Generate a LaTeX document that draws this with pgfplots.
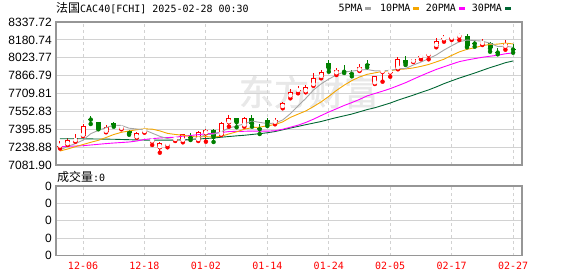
\documentclass[border=0pt]{standalone}
\usepackage{fontspec}
\setmainfont{Liberation Sans}
\newfontfamily\cjk{Noto Sans CJK SC}
\newfontfamily\cjkwm[FakeBold=1.5]{Noto Sans CJK SC}
\newfontfamily\mono{DejaVu Sans Mono}
\usepackage{pgfplots}
\pgfplotsset{compat=1.18}
\usepackage{pgfplotstable}

\definecolor{candleRed}{RGB}{255,0,0}
\definecolor{candleGreen}{RGB}{0,128,0}
\definecolor{maGray}{RGB}{165,165,165}
\definecolor{maOrange}{RGB}{245,166,0}
\definecolor{maMagenta}{RGB}{255,0,255}
\definecolor{maGreen}{RGB}{0,102,51}
\definecolor{frameGray}{RGB}{150,150,150}
\definecolor{gridGray}{RGB}{210,210,210}

% up (red, hollow) candles: index open high low close
\pgfplotstableread{
x o h l c
0 7244.3 7292.6 7226.8 7253.1
1 7263.7 7316.4 7257.5 7301.4
2 7292.6 7351.5 7286.5 7321.6
3 7339.2 7439.3 7336.6 7427.0
6 7374.3 7433.2 7369.0 7418.2
8 7400.7 7433.2 7395.4 7413.0
10 7325.1 7374.3 7321.6 7365.5
11 7371.7 7395.4 7365.5 7377.8
12 7288.3 7323.4 7257.5 7292.6
13 7237.3 7286.5 7189.9 7272.4
14 7257.5 7286.5 7237.3 7261.9
15 7301.4 7314.6 7292.6 7305.8
16 7295.3 7354.1 7281.2 7351.5
18 7301.4 7383.1 7292.6 7374.3
19 7360.3 7395.4 7286.5 7391.9
21 7349.7 7459.5 7345.3 7450.7
22 7456.9 7521.0 7418.2 7492.0
24 7428.8 7506.0 7418.2 7492.0
28 7452.5 7492.0 7439.3 7477.1
29 7591.2 7637.8 7579.8 7629.0
30 7685.2 7746.7 7667.6 7721.2
31 7731.7 7773.0 7711.5 7736.1
32 7729.1 7784.4 7720.3 7769.5
33 7784.4 7887.2 7777.4 7843.3
34 7854.7 7916.2 7843.3 7901.2
36 7887.2 7936.4 7872.3 7918.8
39 7913.5 7966.2 7907.4 7945.1
41 7799.4 7866.1 7793.2 7860.8
42 7898.6 7922.3 7813.4 7904.7
43 7894.2 7916.2 7857.3 7898.6
44 7931.1 8033.0 7922.3 8010.1
46 7989.1 8015.4 7986.4 8010.1
47 8030.3 8054.0 8010.1 8034.7
48 8047.9 8076.9 8010.1 8052.3
49 8128.7 8194.6 8115.5 8170.8
50 8185.8 8223.5 8164.7 8190.2
51 8192.8 8208.6 8179.6 8195.4
52 8210.4 8241.1 8179.6 8214.8
55 8144.5 8185.8 8135.7 8164.7
58 8120.8 8177.0 8094.4 8142.7
}\upcandles

% down (green, filled) candles
\pgfplotstableread{
x o h l c
4 7485.8 7512.2 7441.9 7480.6
5 7456.9 7462.1 7395.4 7400.7
7 7453.4 7462.1 7418.2 7433.2
9 7383.1 7389.2 7348.0 7360.3
17 7325.1 7365.5 7301.4 7319.0
20 7389.2 7395.4 7283.9 7327.8
23 7492.0 7494.6 7413.0 7456.9
25 7492.0 7521.0 7418.2 7444.6
26 7400.7 7441.9 7354.1 7395.4
27 7479.7 7497.3 7424.4 7440.2
35 7979.4 8001.3 7901.2 7931.1
37 7907.4 7955.7 7889.8 7900.4
38 7887.2 7916.2 7860.8 7881.0
40 7962.7 8004.0 7939.9 7957.4
45 8006.6 8036.5 7960.1 7975.0
53 8214.8 8229.7 8115.5 8124.3
54 8153.3 8179.6 8120.8 8148.0
56 8148.9 8164.7 8076.9 8105.0
57 8074.2 8112.0 8054.0 8069.0
59 8100.6 8141.9 8068.1 8095.3
}\downcandles

% moving averages
\pgfplotstableread{
x ma5 ma10 ma20 ma30
0 7213.6 7204.8 7242.6 7312
1 7245.3 7222.4 7245.2 7312
2 7269.4 7242.6 7248.7 7312
3 7300.0 7261.9 7251.4 7312
4 7356.7 7281.2 7257.5 7311
5 7386.3 7298.8 7263.7 7310
6 7409.6 7323.4 7269.8 7309
7 7431.9 7349.7 7275.1 7308
8 7429.1 7369.0 7279.5 7306
9 7405.1 7380.9 7283.9 7304
10 7398.0 7392.2 7292.6 7302
11 7390.0 7399.8 7305.8 7301
12 7361.8 7396.9 7313.7 7300
13 7333.7 7381.4 7319.0 7300
14 7314.0 7359.6 7323.4 7300
15 7302.1 7350.1 7325.0 7301
16 7296.8 7343.4 7335.4 7303
17 7302.1 7332.0 7341.3 7306
18 7322.5 7328.1 7348.3 7310
19 7348.5 7331.3 7356.1 7314.6
20 7352.9 7327.5 7359.8 7319.0
21 7372.7 7334.8 7367.3 7326
22 7407.3 7354.7 7375.8 7332
23 7423.9 7373.2 7377.3 7338
24 7443.9 7396.2 7377.9 7343
25 7467.2 7410.1 7380.1 7350
26 7456.2 7414.5 7378.9 7357
27 7445.8 7426.6 7379.3 7365
28 7449.9 7436.9 7382.5 7376
29 7477.3 7460.6 7395.9 7390.9
30 7532.6 7499.9 7413.7 7406.5
31 7600.7 7528.5 7431.6 7421.0
32 7666.6 7556.2 7455.5 7435.9
33 7739.8 7594.8 7484.0 7449.8
34 7794.3 7635.8 7516.0 7463.8
35 7836.2 7684.4 7547.2 7481.5
36 7872.8 7736.8 7575.6 7498.2
37 7899.0 7782.8 7604.7 7513.8
38 7906.5 7823.2 7630.0 7529.4
39 7915.3 7854.8 7657.7 7548.9
40 7920.5 7878.4 7689.2 7568.6
41 7908.9 7890.9 7709.7 7584.7
42 7909.8 7904.4 7730.3 7605.1
43 7913.3 7909.9 7752.4 7626.0
44 7926.3 7920.8 7778.3 7650.9
45 7929.8 7925.2 7804.8 7673.2
46 7959.7 7934.3 7835.5 7695.2
47 7985.7 7947.8 7865.3 7719.0
48 8016.4 7964.9 7894.0 7741.6
49 8048.6 7987.5 7921.1 7767.6
50 8091.6 8010.7 7944.6 7796.3
51 8128.7 8044.2 7967.5 7821.2
52 8164.7 8075.2 7989.8 7845.3
53 8179.1 8097.8 8003.8 7867.5
54 8174.5 8111.6 8016.2 7889.4
55 8169.4 8130.5 8027.9 7913.4
56 8151.4 8140.0 8037.2 7937.0
57 8122.2 8143.5 8045.6 7958.0
58 8125.9 8152.5 8058.7 7980.2
59 8115.3 8144.9 8066.2 7995.7
}\mas

\begin{document}
\begin{tikzpicture}
\path[use as bounding box] (0,0) rectangle (578pt,276pt);

% watermark
\node[text=black!9, inner sep=0pt] at (309pt,184pt) {\cjkwm\fontsize{35}{35}\selectfont 东方财富};

% title and legend
\node[anchor=west, inner sep=0pt] at (56pt,267.7pt)
  {{\cjk\fontsize{12}{12}\selectfont 法国}{\mono\fontsize{10}{10}\selectfont CAC40[FCHI] 2025-02-28 00:30}};
\node[anchor=west, inner sep=0pt] at (338.3pt,267.7pt) {\mono\fontsize{10}{10}\selectfont 5PMA};
\fill[maGray] (365.3pt,266.2pt) rectangle (371pt,269.4pt);
\node[anchor=west, inner sep=0pt] at (380pt,267.7pt) {\mono\fontsize{10}{10}\selectfont 10PMA};
\fill[maOrange] (413.3pt,266.2pt) rectangle (419pt,269.4pt);
\node[anchor=west, inner sep=0pt] at (425.7pt,267.7pt) {\mono\fontsize{10}{10}\selectfont 20PMA};
\fill[maMagenta] (459pt,266.2pt) rectangle (464.7pt,269.4pt);
\node[anchor=west, inner sep=0pt] at (471.7pt,267.7pt) {\mono\fontsize{10}{10}\selectfont 30PMA};
\fill[maGreen] (505pt,266.2pt) rectangle (510.7pt,269.4pt);

\node[anchor=west, inner sep=0pt] at (57pt,98.7pt)
  {{\cjk\fontsize{12}{12}\selectfont 成交量}{\mono\fontsize{10}{10}\selectfont :0}};

% ---------- price panel ----------
\begin{axis}[
  at={(56pt,111pt)}, anchor=south west,
  width=466pt, height=143pt, scale only axis,
  xmin=-0.52, xmax=60.16, ymin=7081.90, ymax=8337.72,
  axis line style={frameGray, line width=1.2pt},
  xtick={3,11,19,27,35,43,51,59}, xticklabels={},
  ytick={7081.90,7238.88,7395.85,7552.83,7709.81,7866.79,8023.77,8180.74,8337.72},
  yticklabels={7081.90,7238.88,7395.85,7552.83,7709.81,7866.79,8023.77,8180.74,8337.72},
  major tick length=0pt,
  xmajorgrids, ymajorgrids,
  x grid style={gridGray, dash pattern=on 3pt off 3pt, line width=0.9pt},
  y grid style={gridGray, line width=0.9pt},
  yticklabel style={anchor=east, inner sep=0pt, xshift=-4pt, font=\fontsize{12}{12}\selectfont},
]
% red wicks
\addplot[candleRed, only marks, mark=none, error bars/.cd, y dir=plus, y explicit, error mark=none,
  error bar style={draw=candleRed, line width=1pt}]
  table[x=x, y=l, y error expr={\thisrow{h}-\thisrow{l}}] {\upcandles};
% red bodies
\addplot[candleRed, only marks, mark=none, error bars/.cd, y dir=plus, y explicit, error mark=none,
  error bar style={draw=candleRed, line width=5pt}]
  table[x=x, y=o, y error expr={max(\thisrow{c}-\thisrow{o},8.8)}] {\upcandles};
% hollow interior
\addplot[white, only marks, mark=none, error bars/.cd, y dir=plus, y explicit, error mark=none,
  error bar style={draw=white, line width=3pt}]
  table[x=x, y expr={\thisrow{o}+8.8}, y error expr={max(\thisrow{c}-\thisrow{o}-17.6,0)}] {\upcandles};
% green wicks
\addplot[candleGreen, only marks, mark=none, error bars/.cd, y dir=plus, y explicit, error mark=none,
  error bar style={draw=candleGreen, line width=1pt}]
  table[x=x, y=l, y error expr={\thisrow{h}-\thisrow{l}}] {\downcandles};
% green bodies
\addplot[candleGreen, only marks, mark=none, error bars/.cd, y dir=plus, y explicit, error mark=none,
  error bar style={draw=candleGreen, line width=5pt}]
  table[x=x, y=c, y error expr={max(\thisrow{o}-\thisrow{c},8.8)}] {\downcandles};
% moving averages
\addplot[maGreen, line width=0.9pt] table[x=x, y=ma30] {\mas};
\addplot[maMagenta, line width=0.9pt] table[x=x, y=ma20] {\mas};
\addplot[maOrange, line width=0.9pt] table[x=x, y=ma10] {\mas};
\addplot[maGray, line width=0.9pt] table[x=x, y=ma5] {\mas};
\end{axis}

% ---------- volume panel ----------
\begin{axis}[
  at={(56pt,20.3pt)}, anchor=south west,
  width=466pt, height=69.7pt, scale only axis,
  xmin=-0.52, xmax=60.16, ymin=0, ymax=4,
  axis line style={frameGray, line width=1.2pt},
  xtick={3,11,19,27,35,43,51,59},
  xticklabels={12-06,12-18,01-02,01-14,01-24,02-05,02-17,02-27},
  ytick={0,1,2,3,4}, yticklabels={0,0,0,0,0},
  major tick length=0pt,
  xmajorgrids, ymajorgrids,
  x grid style={gridGray, dash pattern=on 3pt off 3pt, line width=0.9pt},
  y grid style={gridGray, line width=0.9pt},
  yticklabel style={anchor=east, inner sep=0pt, xshift=-4pt, font=\fontsize{12}{12}\selectfont},
  xticklabel style={anchor=center, inner sep=0pt, yshift=-10pt, text=red, font=\mono\fontsize{10}{10}\selectfont},
]
\addplot[draw=none, mark=none] coordinates {(0,0) (59,0)};
\end{axis}
\end{tikzpicture}
\end{document}
